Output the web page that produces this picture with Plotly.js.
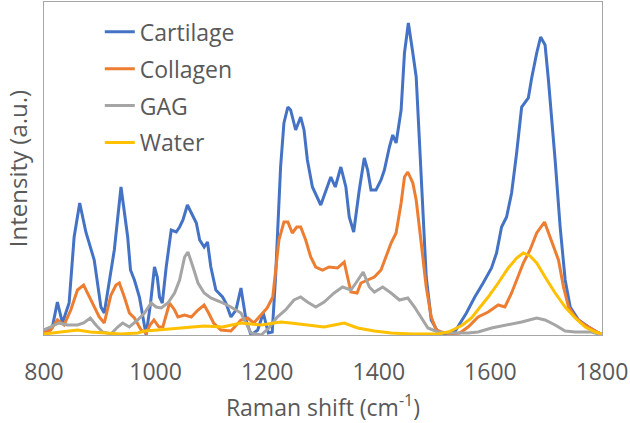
<!DOCTYPE html>
<html>
<head>
<meta charset="utf-8">
<script src="https://cdn.plot.ly/plotly-3.0.1.min.js"></script>
<style>html,body{margin:0;padding:0;background:#fff;}#chart{width:630px;height:423px;}</style>
</head>
<body>
<div id="chart"></div>
<script>
// Raman shift (cm-1) and intensity (a.u.)
var seriesNames = ["Cartilage", "Collagen", "GAG", "Water"];
var seriesColors = ["#4472C4", "#ED7D31", "#A5A5A5", "#FFC000"];

var cartilageX = [800,815,824,833,845,854,864,875,890,902,908,917,926,938,944,950,955,962,971,977,983,991,998,1003,1007,1012,1019,1028,1037,1043,1049,1057,1064,1073,1079,1087,1093,1099,1108,1120,1126,1135,1144,1153,1162,1171,1183,1193,1202,1209,1215,1220,1224,1230,1237,1242,1251,1260,1266,1272,1281,1296,1305,1314,1322,1332,1341,1347,1355,1365,1374,1380,1386,1395,1404,1410,1419,1425,1431,1440,1446,1453,1461,1467,1473,1479,1485,1494,1506,1520,1536,1557,1572,1587,1602,1611,1620,1629,1638,1647,1656,1668,1674,1683,1690,1698,1704,1716,1725,1734,1743,1758,1776,1794,1800];
var cartilageY = [5,8,33,12,32,98,132,103,75,28,22,55,85,148,125,98,65,55,38,18,0,32,68,58,38,32,68,105,103,108,115,130,122,112,95,88,93,68,45,38,32,18,25,47,15,0,5,22,2,3,58,112,168,212,228,225,205,218,205,175,148,130,145,158,148,168,148,118,103,145,177,165,145,145,155,165,188,200,192,225,282,312,282,258,192,125,58,15,3,1,3,22,38,52,67,82,108,118,142,182,228,237,257,282,298,290,255,175,108,55,28,15,8,2,1];

var collagenX = [800,812,824,836,848,860,871,878,887,899,908,920,929,935,944,953,962,974,983,990,997,1006,1013,1025,1034,1040,1052,1064,1076,1087,1095,1104,1117,1135,1153,1165,1176,1188,1200,1210,1215,1221,1230,1237,1245,1253,1260,1269,1278,1287,1299,1311,1326,1338,1344,1350,1361,1368,1380,1392,1404,1413,1422,1431,1440,1446,1452,1461,1467,1476,1485,1494,1503,1512,1530,1545,1560,1578,1596,1614,1626,1638,1647,1659,1671,1683,1697,1704,1713,1722,1731,1740,1752,1764,1779,1794,1800];
var collagenY = [2,5,15,10,25,45,50,42,32,18,12,40,50,52,38,22,17,5,2,10,15,8,8,32,25,18,20,18,25,30,22,12,5,4,15,17,12,20,27,38,65,95,113,113,102,108,108,95,78,68,65,68,67,73,58,43,42,52,55,58,65,78,92,102,132,158,163,152,135,92,48,18,5,3,1,2,8,18,23,30,28,42,55,72,85,102,113,102,88,75,48,28,18,12,7,2,1];

var gagX = [800,812,827,842,860,871,883,893,905,920,932,941,953,968,980,992,1001,1010,1022,1034,1043,1052,1058,1067,1076,1087,1099,1117,1135,1153,1162,1171,1189,1203,1218,1233,1248,1260,1272,1287,1302,1320,1335,1350,1359,1372,1383,1392,1407,1422,1437,1452,1464,1476,1488,1506,1530,1560,1578,1602,1632,1656,1683,1698,1716,1734,1752,1781,1800];
var gagY = [5,8,12,10,10,12,17,10,3,1,8,12,8,15,22,32,28,27,32,42,55,78,83,68,52,42,37,33,28,22,12,2,0,7,18,25,35,38,33,28,33,42,48,45,52,63,48,43,48,42,35,37,28,17,7,3,2,2,3,7,10,13,17,15,10,4,3,3,0];

var waterX = [800,818,836,860,883,908,938,968,980,1004,1028,1058,1087,1120,1153,1190,1224,1242,1270,1302,1320,1338,1362,1392,1422,1460,1506,1524,1536,1550,1566,1578,1596,1614,1632,1647,1659,1671,1683,1698,1716,1734,1752,1770,1788,1800];
var waterY = [1,2,3,5,3,2,1,2,4,5,6,8,9,8,12,10,13,12,10,8,10,12,7,4,2,1,1,3,6,10,17,25,38,52,67,77,82,79,72,58,42,28,17,8,3,1];

var xs = [cartilageX, collagenX, gagX, waterX];
var ys = [cartilageY, collagenY, gagY, waterY];
var xTickVals = [800, 1000, 1200, 1400, 1600, 1800];

var fontFam = "Open Sans, Noto Sans, sans-serif";
var textColor = "#595959";

var traces = seriesNames.map(function (name, i) {
  return {
    type: "scatter",
    mode: "lines",
    name: name,
    x: xs[i],
    y: ys[i],
    legendgroup: name,
    line: {color: seriesColors[i], width: 3}
  };
});

var layout = {
  width: 630,
  height: 423,
  margin: {l: 44, r: 28, t: 2, b: 88},
  paper_bgcolor: "#ffffff",
  plot_bgcolor: "#ffffff",
  font: {family: fontFam, size: 23, color: textColor},
  showlegend: true,
  legend: {
    x: 0.1, y: 0.975, xanchor: "left", yanchor: "top",
    bgcolor: "rgba(0,0,0,0)",
    font: {family: fontFam, size: 23, color: textColor},
    tracegroupgap: 4,
    traceorder: "grouped"
  },
  xaxis: {
    range: [800, 1800],
    tickvals: xTickVals,
    ticktext: xTickVals.map(String),
    ticks: "",
    ticklabelstandoff: 16,
    showgrid: false,
    zeroline: false,
    showline: true,
    mirror: true,
    linecolor: "#a6a6a6",
    linewidth: 1,
    tickfont: {family: fontFam, size: 23, color: textColor},
    title: {text: "Raman shift (cm<sup>-1</sup>)", font: {family: fontFam, size: 23, color: textColor}, standoff: 14}
  },
  yaxis: {
    range: [0, 333],
    showticklabels: false,
    ticks: "",
    showgrid: false,
    zeroline: false,
    showline: true,
    mirror: true,
    linecolor: "#a6a6a6",
    linewidth: 1,
    title: {text: "Intensity (a.u.)", font: {family: fontFam, size: 24, color: textColor}, standoff: 8}
  }
};

Plotly.newPlot("chart", traces, layout, {displayModeBar: false, staticPlot: true});
</script>
</body>
</html>
